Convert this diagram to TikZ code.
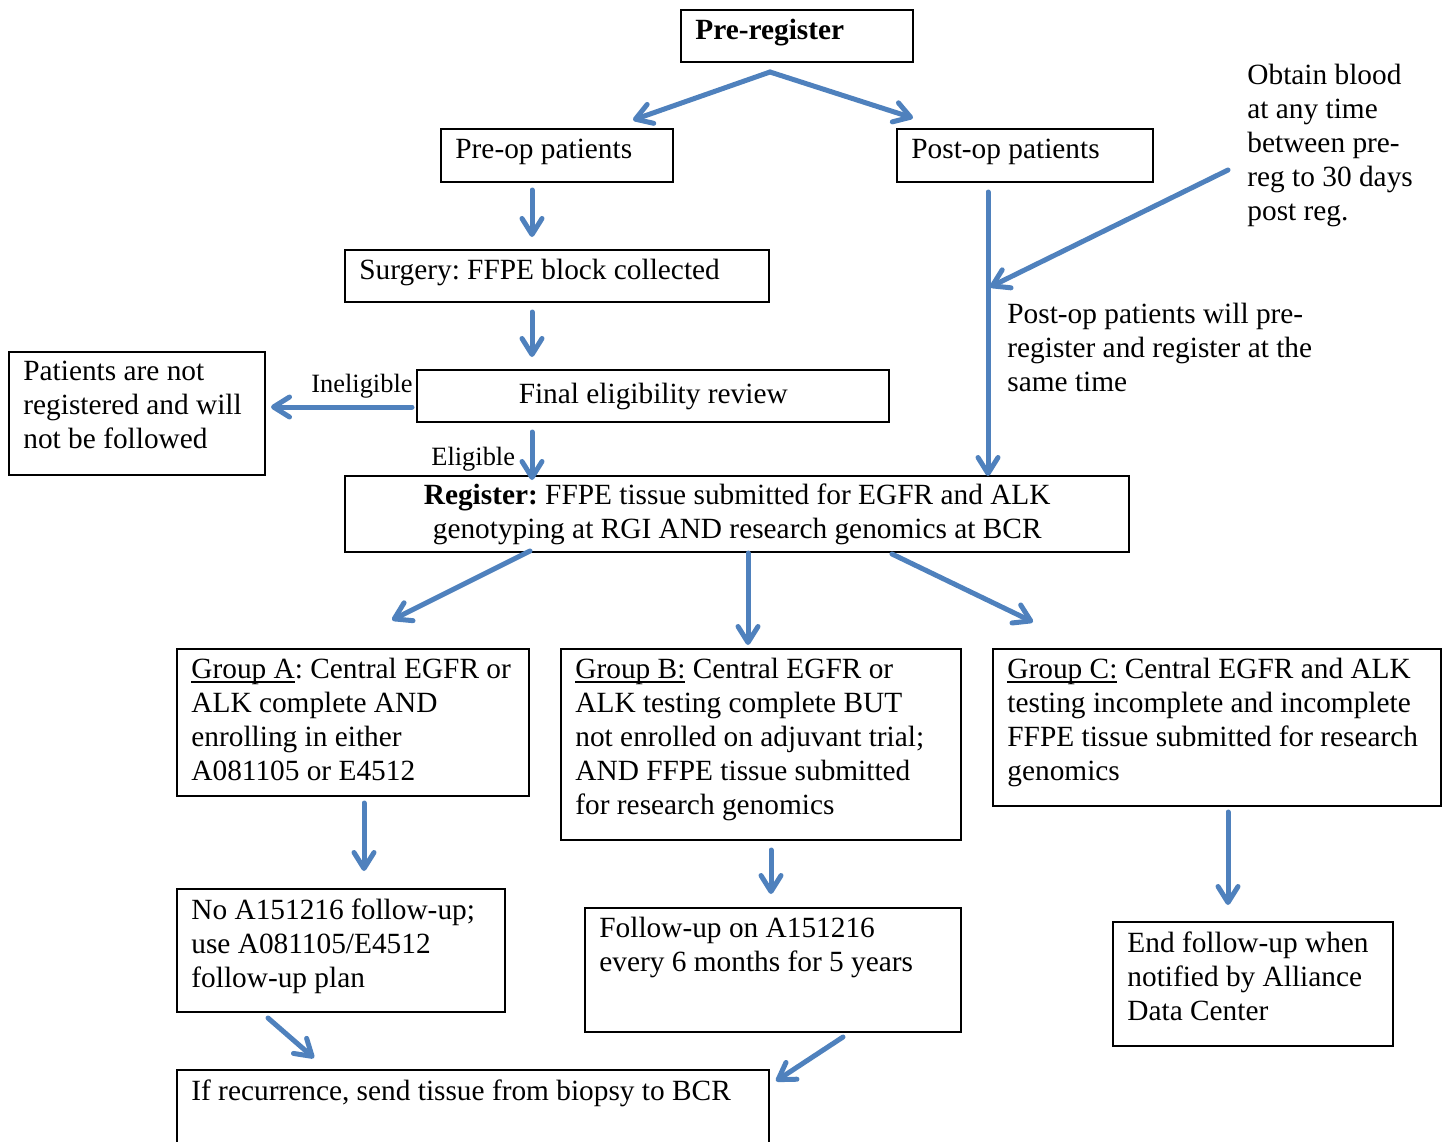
\documentclass[tikz,border=0pt]{standalone}
\usepackage{fontspec}
\setmainfont{Liberation Serif}
\usepackage{xcolor}
\usetikzlibrary{arrows.meta,positioning,calc}
\definecolor{flowblue}{HTML}{4F81BD}
\frenchspacing
% underline close to the baseline
\newcommand{\grpline}[1]{\setbox0\hbox{#1}\rlap{\rule[-2pt]{\wd0}{0.7pt}}\box0\relax}

\tikzset{
  box/.style 2 args={draw, line width=1.2pt, anchor=north west, inner sep=0pt,
    minimum width=#1*0.5pt, minimum height=#2*0.5pt},
  txt/.style={anchor=north west, align=left, inner xsep=7.5pt, inner ysep=5pt,
    execute at begin node={\rule{0pt}{10pt}}},
  note/.style={anchor=north west, align=left, inner sep=0pt,
    execute at begin node={\rule{0pt}{10pt}}},
  small/.style={anchor=base west, inner sep=0pt, font=\fontsize{13.2pt}{15pt}\selectfont},
  flow/.style={draw=flowblue, line width=2.5pt, line cap=round,
    -{Straight Barb[length=8pt,width=10pt,round]}}
}

\begin{document}
\begin{tikzpicture}[x=0.5pt, y=-0.5pt, font=\fontsize{14.67pt}{17pt}\selectfont]
        \useasboundingbox (0,0) rectangle (1450,1141);

        % Top of the chart
        \node[box={232}{52}, label={[txt]north west:\textbf{Pre-register}}] (prereg) at (680,9) {};
        \node[box={232}{53}, label={[txt]north west:Pre-op patients}] (preop) at (440,128) {};
        \node[box={256}{53}, label={[txt]north west:Post-op patients}] (postop) at (896,128) {};
        \node[box={424}{52}, label={[txt]north west:Surgery: FFPE block collected}] (surgery) at (344,249) {};
        \node[box={472}{52}] (review) at (416,369) {Final eligibility review};
        \node[box={256}{123}, label={[txt]north west:Patients are not\\registered and will\\not be followed}] (notreg) at (8,351) {};
        \node[box={784}{76}, align=center] (register) at (344,475)
            {\textbf{Register:} FFPE tissue submitted for EGFR and ALK\\genotyping at RGI AND research genomics at BCR};

        % Side notes
        \node[note] (blood) at (1247,64) {Obtain blood\\at any time\\between pre-\\reg to 30 days\\post reg.};
        \node[note] (postnote) at (1007,303) {Post-op patients will pre-\\register and register at the\\same time};
        \node[small] (inelig) at (311,392) {Ineligible};
        \node[small] (elig) at (431,465) {Eligible};

        % Groups
        \node[box={352}{147}, label={[txt]north west:\grpline{Group A}: Central EGFR or\\ALK complete AND\\enrolling in either\\A081105 or E4512}] (grpA) at (176,648) {};
        \node[box={400}{191}, label={[txt]north west:\grpline{Group B:} Central EGFR or\\ALK testing complete BUT\\not enrolled on adjuvant trial;\\AND FFPE tissue submitted\\for research genomics}] (grpB) at (560,648) {};
        \node[box={448}{157}, label={[txt]north west:\grpline{Group C:} Central EGFR and ALK\\testing incomplete and incomplete\\FFPE tissue submitted for research\\genomics}] (grpC) at (992,648) {};

        % Follow-up
        \node[box={328}{123}, label={[txt]north west:No A151216 follow-up;\\use A081105/E4512\\follow-up plan}] (nofollow) at (176,888) {};
        \node[box={376}{124}, label={[txt]north west:Follow-up on A151216\\every 6 months for 5 years}] (followup) at (584,907) {};
        \node[box={280}{124}, label={[txt]north west:End follow-up when\\notified by Alliance\\Data Center}] (endfollow) at (1112,921) {};
        \node[box={592}{140}, label={[txt]north west:{If recurrence, send tissue from biopsy to BCR}}] (recur) at (176,1069) {};

        % Arrow ends
        \coordinate (splitT) at (770,72);
        \coordinate (preopN) at (633,120);
        \coordinate (postopN) at (913,118);
        \coordinate (preopS) at (532,190);
        \coordinate (surgN) at (532,237);
        \coordinate (surgS) at (532,312);
        \coordinate (revN) at (532,357);
        \coordinate (revW) at (412,407);
        \coordinate (notregE) at (271,407);
        \coordinate (revS) at (532,432);
        \coordinate (regN) at (532,480);
        \coordinate (postopS) at (988,192);
        \coordinate (regNE) at (988,476);
        \coordinate (bloodW) at (1228,170);
        \coordinate (joinP) at (990,287);
        \coordinate (regSW) at (530,551);
        \coordinate (grpAN) at (392,620);
        \coordinate (regS) at (748,553);
        \coordinate (grpBN) at (748,645);
        \coordinate (regSE) at (892,554);
        \coordinate (grpCN) at (1033,622);
        \coordinate (grpAS) at (364,803);
        \coordinate (nofN) at (364,871);
        \coordinate (grpBS) at (771,850);
        \coordinate (fupN) at (771,894);
        \coordinate (grpCS) at (1228,812);
        \coordinate (endN) at (1228,905);
        \coordinate (nofS) at (268,1018);
        \coordinate (recNW) at (314,1058);
        \coordinate (fupS) at (843,1037);
        \coordinate (recNE) at (776,1081);

        % Arrows
        \draw[flow] (splitT) -- (preopN);
        \draw[flow] (splitT) -- (postopN);
        \draw[flow] (preopS) -- (surgN);
        \draw[flow] (surgS) -- (revN);
        \draw[flow] (revW) -- (notregE);
        \draw[flow] (revS) -- (regN);
        \draw[flow] (postopS) -- (regNE);
        \draw[flow] (bloodW) -- (joinP);
        \draw[flow] (regSW) -- (grpAN);
        \draw[flow] (regS) -- (grpBN);
        \draw[flow] (regSE) -- (grpCN);
        \draw[flow] (grpAS) -- (nofN);
        \draw[flow] (grpBS) -- (fupN);
        \draw[flow] (grpCS) -- (endN);
        \draw[flow] (nofS) -- (recNW);
        \draw[flow] (fupS) -- (recNE);
    \end{tikzpicture}
\end{document}
